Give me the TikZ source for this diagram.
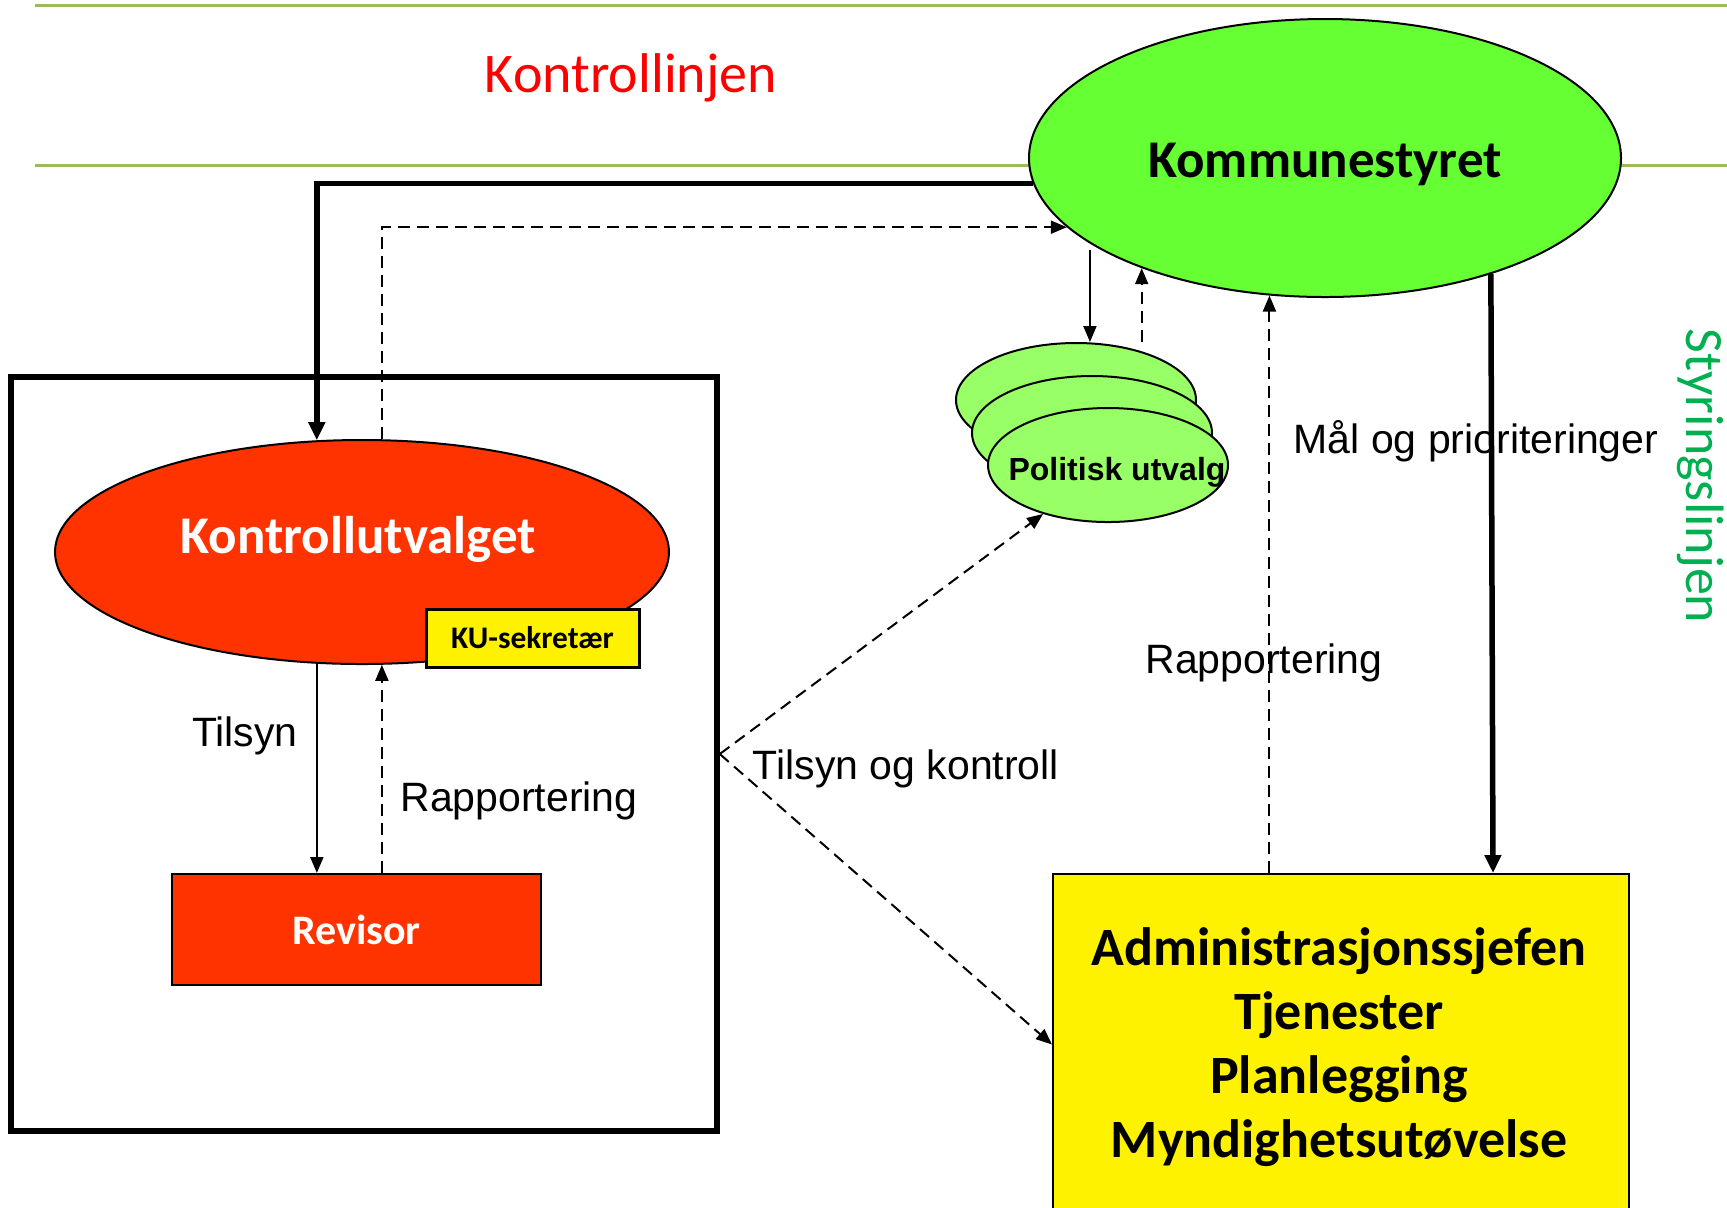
\documentclass[tikz,border=0pt]{standalone}
\usepackage{fontspec}
\setmainfont{Carlito}
\newfontfamily\arial{Liberation Sans}
\usetikzlibrary{shapes.geometric,arrows.meta,calc}
\definecolor{kgreen}{HTML}{66FF33}
\definecolor{pgreen}{HTML}{99FF66}
\definecolor{kred}{HTML}{FF3300}
\definecolor{lgreen}{HTML}{9BBB59}
\definecolor{sgreen}{HTML}{00B050}
\begin{document}
\begin{tikzpicture}[x=0.5pt,y=-0.5pt,
  arr/.style={line width=1pt,-{Triangle[length=8pt,width=6.5pt]}},
  darr/.style={arr,dash pattern=on 6pt off 3.5pt},
  thickarr/.style={line width=2.75pt,-{Triangle[length=9pt,width=8pt]}},
  lbl/.style={font=\arial\fontsize{20.5}{24}\selectfont, inner sep=0},
  oval/.style={ellipse,draw,line width=1pt,inner sep=0},
  hline/.style={draw=lgreen,line width=1.5pt}]
\useasboundingbox (0,0) rectangle (1727,1207);
\clip (0,0) rectangle (1727,1207);
% horizontal lines
\draw[hline] (35,5.5) -- (1727,5.5);
\draw[hline] (35,165) -- (1727,165);
\node[text=red,font=\fontsize{28}{32}\selectfont,inner sep=0] (kl) at (631,78) {Kontrollinjen};
\node[text=sgreen,font=\fontsize{27}{32}\selectfont,inner sep=0,rotate=-90] (sl) at (1701,476) {Styringslinjen};
% main nodes
\node[oval,fill=kgreen,minimum width=296pt,minimum height=139pt] (komm) at (1325,158) {};
\node[font=\bfseries\fontsize{26.5}{30}\selectfont,inner sep=0] (kommt) at (1325,164) {Kommunestyret};
\node[draw,line width=2.75pt,minimum width=353pt,minimum height=377pt,inner sep=0] (kbox) at (364,754) {};
\node[oval,fill=kred,minimum width=307pt,minimum height=112pt] (kuv) at (362,552) {};
\node[text=white,font=\bfseries\fontsize{26.5}{30}\selectfont,inner sep=0] (kuvt) at (358,539) {Kontrollutvalget};
\node[draw,line width=1.5pt,fill=yellow,minimum width=106.5pt,minimum height=29pt,inner sep=0,font=\bfseries\fontsize{15.7}{18}\selectfont] (ku) at (532.5,638) {KU-sekretær};
\node[draw,line width=1pt,fill=kred,minimum width=184.5pt,minimum height=55.5pt,inner sep=0,text=white,font=\bfseries\fontsize{21}{24}\selectfont] (rev) at (356.5,929.5) {Revisor};
\node[oval,fill=pgreen,minimum width=120pt,minimum height=57pt] (pu1) at (1076,400) {};
\node[oval,fill=pgreen,minimum width=120pt,minimum height=57pt] (pu2) at (1092,433) {};
\node[oval,fill=pgreen,minimum width=120pt,minimum height=57pt] (pu3) at (1108,465) {};
\node[font=\arial\bfseries\fontsize{16}{18}\selectfont,inner sep=0] (put) at (1117,472) {Politisk utvalg};
\node[draw,line width=1pt,fill=yellow,minimum width=288pt,minimum height=170.5pt,inner sep=0] (adm) at (1341,1044.5) {};
\node[align=center,inner sep=0,font=\bfseries\fontsize{27}{32}\selectfont] (admt) at (1339,1047) {Administrasjonssjefen\\Tjenester\\Planlegging\\Myndighetsutøvelse};
% connectors
\draw[thickarr] (komm.185) -| (kuv.112);
\draw[darr] (kuv.80) |- (komm.195);
\draw[arr] (kuv.248) -- (kuv.248 |- rev.north);
\draw[darr] (kuv.280 |- rev.north) -- (kuv.280);
\draw[arr] ($(komm.200)+(0,6)$) -- (komm.200 |- pu1.north);
\draw[darr] (komm.211 |- pu1.north) -- (komm.211);
\draw[darr] (komm.248 |- adm.north) -- (komm.248);
\draw[thickarr] (komm.325) -- ($(adm.north west)+(441,0)$);
\draw[darr] (kbox.east) -- (pu3.217);
\draw[darr] (kbox.east) -- (adm.west);
% labels
\node[lbl] (l1) at (245,736) {Tilsyn};
\node[lbl] (l2) at (519,801) {Rapportering};
\node[lbl] (l3) at (906,769) {Tilsyn og kontroll};
\node[lbl] (l4) at (1264,663) {Rapportering};
\node[lbl] (l5) at (1476,441) {Mål og prioriteringer};
\end{tikzpicture}
\end{document}
